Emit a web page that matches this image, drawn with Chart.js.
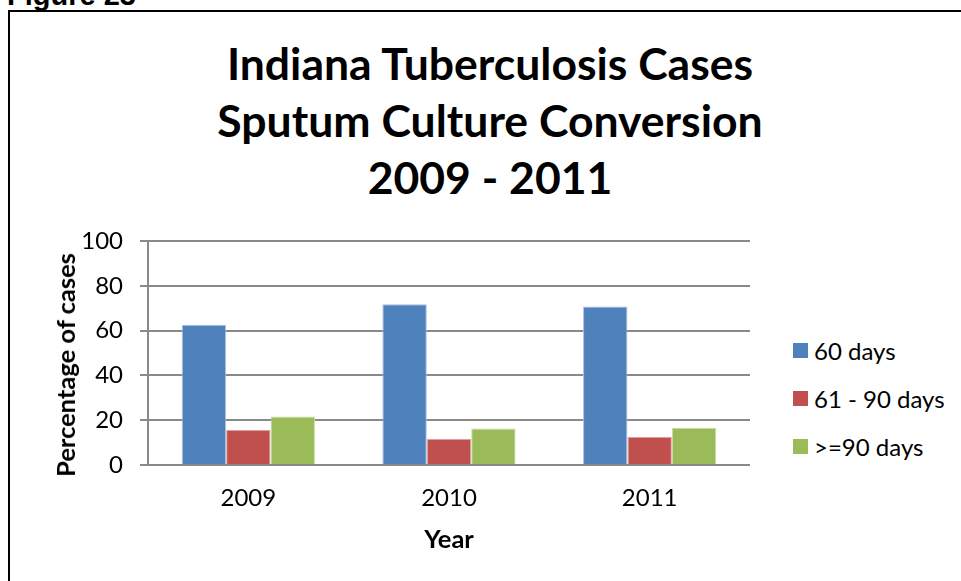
<!DOCTYPE html>
<html>
<head>
<meta charset="utf-8">
<title>Indiana Tuberculosis Cases - Sputum Culture Conversion</title>
<script src="https://cdn.jsdelivr.net/npm/chart.js@4.4.1/dist/chart.umd.min.js"></script>
<style>
  html, body { margin: 0; padding: 0; background: #fff; width: 961px; height: 581px; overflow: hidden; }
  #fig-label {
    position: absolute; left: 7px; top: -21px; line-height: 30px;
    font: bold 29px "Liberation Sans", Arial, sans-serif; color: #000; white-space: nowrap;
  }
  #frame {
    position: absolute; left: 8px; top: 10px; width: 1000px; height: 620px;
    border-top: 2px solid #000; border-left: 2px solid #000;
  }
  #chart-title {
    position: absolute; left: 0; top: 34px; width: 980px; margin: 0;
    text-align: center; font: bold 44.5px/57px Lato, "Open Sans", sans-serif; color: #000;
  }
  #y-title {
    position: absolute; left: 65px; top: 365px; line-height: 30px; white-space: nowrap;
    transform: translate(-50%, -50%) rotate(-90deg);
    font: bold 25.5px Lato, "Open Sans", sans-serif; color: #000;
  }
  #chart-box { position: absolute; left: 10px; top: 12px; width: 740px; height: 569px; }
  #legend { position: absolute; left: 793px; top: 326px; margin: 0; padding: 0; list-style: none; }
  #legend li {
    display: flex; align-items: center; height: 48.3px;
    font: 24px Lato, "Open Sans", sans-serif; color: #000; white-space: nowrap;
  }
  #legend .key { display: inline-block; width: 15px; height: 15px; margin-right: 6px; }
</style>
</head>
<body>
<div id="fig-label">Figure 23</div>
<div id="frame"></div>
<h1 id="chart-title"></h1>
<div id="chart-box"><canvas id="c"></canvas></div>
<div id="y-title"></div>
<ul id="legend"></ul>
<script>
  var years = ["2009", "2010", "2011"];
  var seriesNames = ["60 days", "61 - 90 days", ">=90 days"];
  var days60 = [62.6, 71.8, 70.8];
  var days61to90 = [15.7, 11.7, 12.6];
  var days90plus = [21.6, 16.3, 16.6];
  var yTicks = [0, 20, 40, 60, 80, 100];
  var titleLines = ["Indiana Tuberculosis Cases", "Sputum Culture Conversion", "2009 - 2011"];
  var xTitle = "Year";
  var yTitle = "Percentage of cases";

  var FONT = 'Lato, "Open Sans", sans-serif';
  var GRID = "#898989";
  var fills = ["#4f81bd", "#c0504d", "#9bbb59"];
  var edges = ["#a8c0df", "#e0a9a8", "#cadcab"];

  // three-line heading above the plot
  var h1 = document.getElementById("chart-title");
  titleLines.forEach(function (line, i) {
    if (i) h1.appendChild(document.createElement("br"));
    h1.appendChild(document.createTextNode(line));
  });
  // y title sits a little low next to the axis, so it lives outside the canvas
  document.getElementById("y-title").textContent = yTitle;

  var bar = function (i, values) {
    return {
      label: seriesNames[i],
      data: values,
      backgroundColor: fills[i],
      borderColor: edges[i],
      borderWidth: 1,
      categoryPercentage: 0.664,
      barPercentage: 1.0,
    };
  };

  var chart = new Chart(document.getElementById("c"), {
    type: "bar",
    data: {
      labels: years,
      datasets: [bar(0, days60), bar(1, days61to90), bar(2, days90plus)],
    },
    options: {
      responsive: true,
      maintainAspectRatio: false,
      animation: false,
      events: [],
      layout: { padding: { left: 0, right: 0, top: 229, bottom: 0 } },
      plugins: {
        legend: { display: false },
        tooltip: { enabled: false },
        title: { display: false },
      },
      scales: {
        x: {
          grid: { display: false, drawTicks: false },
          border: { display: true, color: GRID, width: 2 },
          ticks: { color: "#000", font: { family: FONT, size: 24 }, padding: 19 },
          title: {
            display: true, text: xTitle, color: "#000",
            font: { family: FONT, size: 25.5, weight: "bold" },
            padding: { top: 0, bottom: 26 },
          },
          afterFit: function (s) { s.height = 116; },
        },
        y: {
          min: 0,
          max: 100,
          afterBuildTicks: function (s) { s.ticks = yTicks.map(function (v) { return { value: v }; }); },
          grid: { color: GRID, lineWidth: 2, drawTicks: true, tickLength: 8, tickColor: GRID },
          border: { display: true, color: GRID, width: 2 },
          ticks: { color: "#000", font: { family: FONT, size: 24 }, padding: 17 },
          afterFit: function (s) { s.width = 138; },
        },
      },
    },
  });

  // legend list built from the chart's own legend items
  var ul = document.getElementById("legend");
  chart.options.plugins.legend.labels.generateLabels(chart).forEach(function (item) {
    var li = document.createElement("li");
    var key = document.createElement("span");
    key.className = "key";
    key.style.background = item.fillStyle;
    li.appendChild(key);
    li.appendChild(document.createTextNode(item.text));
    ul.appendChild(li);
  });
</script>
</body>
</html>
